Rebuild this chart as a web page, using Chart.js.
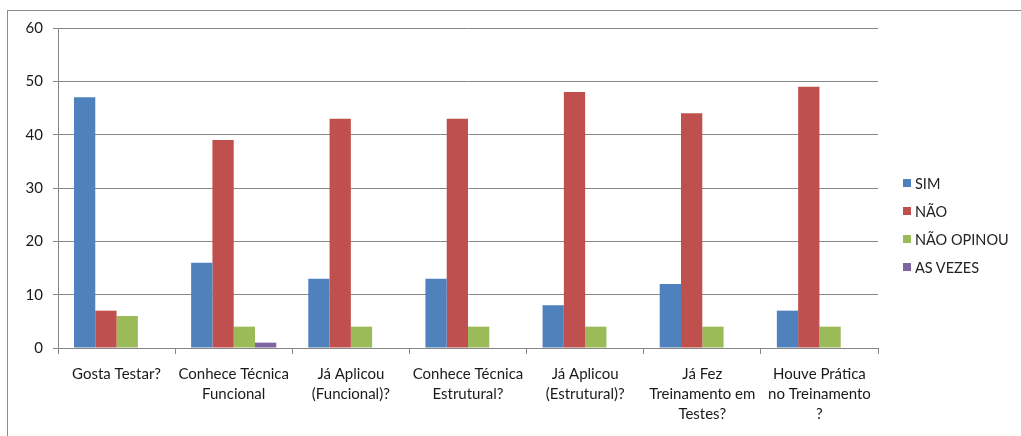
<!DOCTYPE html>
<html>
<head>
<meta charset="utf-8">
<script src="https://cdn.jsdelivr.net/npm/chart.js@4.4.0/dist/chart.umd.min.js"></script>
<style>
  html, body { margin: 0; padding: 0; background: #fff; }
  #wrap { position: relative; width: 1021px; height: 436px; overflow: hidden; }
  #frame { position: absolute; left: 7px; top: 10px; right: 0; bottom: 0;
           border-top: 1px solid #8c8c8c; border-left: 1px solid #8c8c8c; }
  canvas { position: absolute; left: 0; top: 0; }
  #legend { position: absolute; left: 903px; top: 174px; font-family: Lato, "Open Sans", sans-serif;
            font-size: 14.5px; color: #222; }
  .li { display: flex; align-items: center; height: 18px; margin-bottom: 10px; }
  .sw { width: 8px; height: 8px; margin-right: 4px; display: inline-block; }
</style>
</head>
<body>
<div id="wrap">
  <div id="frame"></div>
  <canvas id="c" width="1021" height="436"></canvas>
  <div id="legend"></div>
</div>
<script>
const categories = [
  ["Gosta Testar?"],
  ["Conhece Técnica", "Funcional"],
  ["Já Aplicou", "(Funcional)?"],
  ["Conhece Técnica", "Estrutural?"],
  ["Já Aplicou", "(Estrutural)?"],
  ["Já Fez", "Treinamento em", "Testes?"],
  ["Houve Prática", "no Treinamento", "?"]
];
const seriesNames = ["SIM", "NÃO", "NÃO OPINOU", "AS VEZES"];
const sim       = [47, 16, 13, 13, 8, 12, 7];
const nao       = [7, 39, 43, 43, 48, 44, 49];
const naoOpinou = [6, 4, 4, 4, 4, 4, 4];
const asVezes   = [0, 1, 0, 0, 0, 0, 0];
const yTicks = [0, 10, 20, 30, 40, 50, 60];
const colors = ["#4F81BD", "#C0504D", "#9BBB59", "#8064A2"];

const values = [sim, nao, naoOpinou, asVezes];
const datasets = seriesNames.map((n, i) => ({
  label: n, data: values[i], backgroundColor: colors[i],
  barPercentage: 1.0, categoryPercentage: 0.727, borderWidth: 0
}));

const legend = document.getElementById('legend');
seriesNames.forEach((n, i) => {
  const d = document.createElement('div'); d.className = 'li';
  d.innerHTML = '<span class="sw" style="background:' + colors[i] + '"></span><span>' + n + '</span>';
  legend.appendChild(d);
});

const xFont = { family: "Lato, 'Open Sans', sans-serif", size: 15, lineHeight: 1.33 };
const yFont = { family: "Lato, 'Open Sans', sans-serif", size: 15 };
new Chart(document.getElementById('c'), {
  type: 'bar',
  data: { labels: categories, datasets },
  options: {
    responsive: false, animation: false,
    layout: { padding: { left: 0, top: 28, right: 143, bottom: 0 } },
    plugins: { legend: { display: false }, tooltip: { enabled: false } },
    scales: {
      x: {
        afterFit: s => { s.height = 88; },
        grid: { drawOnChartArea: false, tickLength: 6, color: '#868686', offset: true },
        border: { color: '#868686' },
        ticks: { color: '#1a1a1a', font: xFont, maxRotation: 0, autoSkip: false, padding: 10 }
      },
      y: {
        min: 0, max: 60,
        afterFit: s => { s.width = 58; },
        afterBuildTicks: s => { s.ticks = yTicks.map(v => ({ value: v })); },
        grid: { color: '#868686', tickLength: 5, drawTicks: true },
        border: { color: '#868686' },
        ticks: { color: '#1a1a1a', font: yFont, padding: 10 }
      }
    }
  }
});
</script>
</body>
</html>
